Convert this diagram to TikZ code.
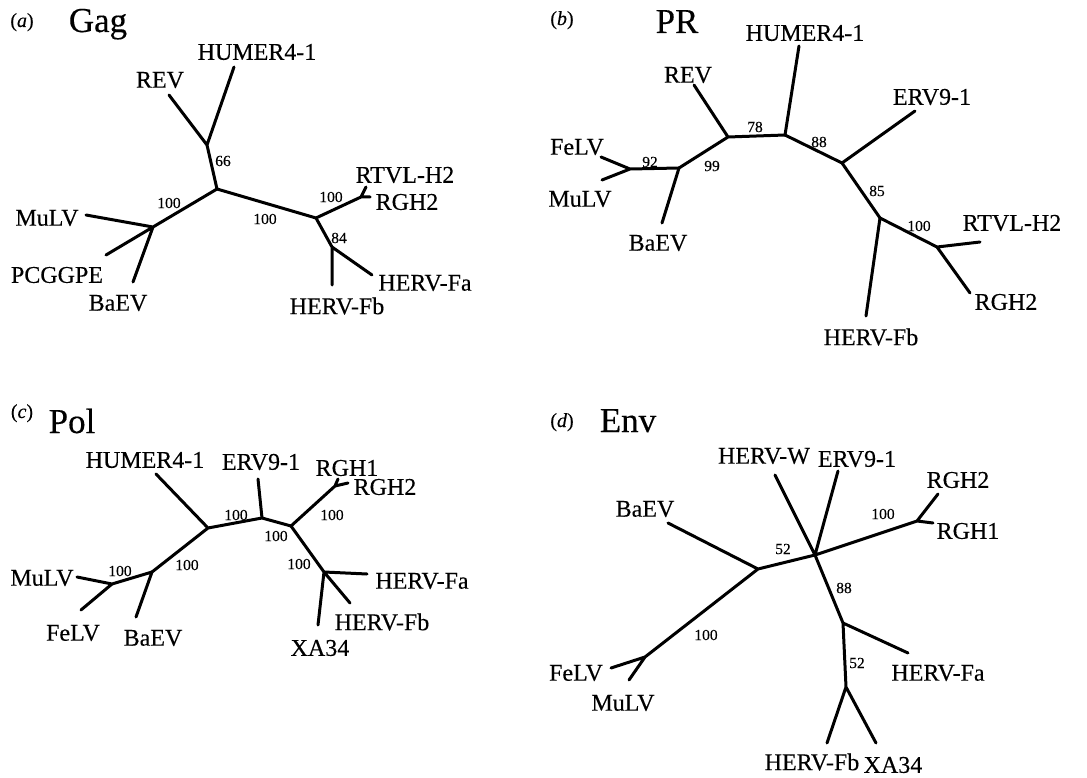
\documentclass[tikz,border=0pt]{standalone}
\usepackage{fontspec}
\setmainfont{Liberation Serif}[FakeBold=0.3]
\begin{document}
\begin{tikzpicture}[x=1pt,y=-1pt,
  branch/.style={line width=3pt, line cap=round},
  taxon/.style={font=\fontsize{24}{26}\selectfont, inner sep=0pt},
  boot/.style={font=\fontsize{15.5}{17}\selectfont, inner sep=0pt},
  gene/.style={font=\fontsize{35}{38}\selectfont, inner sep=0pt, anchor=base},
  panel/.style={font=\fontsize{20}{22}\selectfont, inner sep=0pt, anchor=base}]
\useasboundingbox (0,0) rectangle (1087,778);

% ---------------- (a) Gag ----------------
\node[panel] (a-lab) at (22,27) {(\textit{a})};
\node[gene] (a-title) at (98,32) {Gag};
\coordinate (a-c) at (217,189);
\coordinate (a-n66) at (207,145);
\coordinate (a-rev) at (169,95);
\coordinate (a-hum) at (234,67);
\coordinate (a-m) at (153,227);
\coordinate (a-mulv) at (86,215);
\coordinate (a-pcg) at (106,255);
\coordinate (a-baev) at (133,282);
\coordinate (a-r) at (316,218);
\coordinate (a-rr) at (361,197);
\coordinate (a-rtvl) at (366,187);
\coordinate (a-rgh2) at (370,197);
\coordinate (a-f) at (332,247);
\coordinate (a-fa) at (372,275);
\coordinate (a-fb) at (332,285);
\draw[branch] (a-c) -- (a-n66) (a-n66) -- (a-rev) (a-n66) -- (a-hum);
\draw[branch] (a-c) -- (a-m) (a-m) -- (a-mulv) (a-m) -- (a-pcg) (a-m) -- (a-baev);
\draw[branch] (a-c) -- (a-r) (a-r) -- (a-rr) (a-rr) -- (a-rtvl) (a-rr) -- (a-rgh2);
\draw[branch] (a-r) -- (a-f) (a-f) -- (a-fa) (a-f) -- (a-fb);
\node[taxon] (a-t-hum) at (257,52) {HUMER4-1};
\node[taxon] (a-t-rev) at (160,80) {REV};
\node[taxon] (a-t-mulv) at (47,218) {MuLV};
\node[taxon] (a-t-pcg) at (57,275) {PCGGPE};
\node[taxon] (a-t-baev) at (118,303) {BaEV};
\node[taxon] (a-t-rtvl) at (405,175) {RTVL-H2};
\node[taxon] (a-t-rgh2) at (407,202) {RGH2};
\node[taxon] (a-t-fa) at (425,283) {HERV-Fa};
\node[taxon] (a-t-fb) at (337,306) {HERV-Fb};
\node[boot] (a-b1) at (223,161) {66};
\node[boot] (a-b2) at (169,203) {100};
\node[boot] (a-b3) at (265,219) {100};
\node[boot] (a-b4) at (331,197) {100};
\node[boot] (a-b5) at (339,238) {84};

% ---------------- (b) PR ----------------
\node[panel] (b-lab) at (562,25) {(\textit{b})};
\node[gene] (b-title) at (677,33) {PR};
\coordinate (b-fm) at (630,169);
\coordinate (b-felv) at (601,157);
\coordinate (b-mulv) at (602,180);
\coordinate (b-b) at (679,168);
\coordinate (b-baev) at (662,223);
\coordinate (b-rv) at (728,137);
\coordinate (b-rev) at (694,85);
\coordinate (b-h) at (785,135);
\coordinate (b-hum) at (799,46);
\coordinate (b-e) at (842,163);
\coordinate (b-erv) at (915,111);
\coordinate (b-f) at (880,218);
\coordinate (b-fb) at (866,316);
\coordinate (b-rr) at (937,247);
\coordinate (b-rtvl) at (980,242);
\coordinate (b-rgh2) at (970,293);
\draw[branch] (b-fm) -- (b-felv) (b-fm) -- (b-mulv) (b-fm) -- (b-b);
\draw[branch] (b-b) -- (b-baev) (b-b) -- (b-rv) (b-rv) -- (b-rev) (b-rv) -- (b-h);
\draw[branch] (b-h) -- (b-hum) (b-h) -- (b-e) (b-e) -- (b-erv) (b-e) -- (b-f);
\draw[branch] (b-f) -- (b-fb) (b-f) -- (b-rr) (b-rr) -- (b-rtvl) (b-rr) -- (b-rgh2);
\node[taxon] (b-t-felv) at (577,147) {FeLV};
\node[taxon] (b-t-mulv) at (580,199) {MuLV};
\node[taxon] (b-t-baev) at (658,243) {BaEV};
\node[taxon] (b-t-rev) at (688,75) {REV};
\node[taxon] (b-t-hum) at (805,33) {HUMER4-1};
\node[taxon] (b-t-erv) at (932,97) {ERV9-1};
\node[taxon] (b-t-fb) at (871,337) {HERV-Fb};
\node[taxon] (b-t-rtvl) at (1012,223) {RTVL-H2};
\node[taxon] (b-t-rgh2) at (1006,302) {RGH2};
\node[boot] (b-b1) at (650,162) {92};
\node[boot] (b-b2) at (712,166) {99};
\node[boot] (b-b3) at (755,127) {78};
\node[boot] (b-b4) at (819,142) {88};
\node[boot] (b-b5) at (877,191) {85};
\node[boot] (b-b6) at (919,226) {100};

% ---------------- (c) Pol ----------------
\node[panel] (c-lab) at (22,418) {(\textit{c})};
\node[gene] (c-title) at (72,433) {Pol};
\coordinate (c-m) at (112,584);
\coordinate (c-mulv) at (77,577);
\coordinate (c-felv) at (81,610);
\coordinate (c-b) at (152,572);
\coordinate (c-baev) at (136,617);
\coordinate (c-h) at (208,528);
\coordinate (c-hum) at (156,474);
\coordinate (c-e) at (262,518);
\coordinate (c-erv) at (258,479);
\coordinate (c-r) at (291,526);
\coordinate (c-rg) at (335,486);
\coordinate (c-rgh1) at (338,479);
\coordinate (c-rgh2) at (348,483);
\coordinate (c-f) at (324,572);
\coordinate (c-fa) at (367,574);
\coordinate (c-fb) at (350,603);
\coordinate (c-xa) at (318,625);
\draw[branch] (c-m) -- (c-mulv) (c-m) -- (c-felv) (c-m) -- (c-b) (c-b) -- (c-baev);
\draw[branch] (c-b) -- (c-h) (c-h) -- (c-hum) (c-h) -- (c-e) (c-e) -- (c-erv) (c-e) -- (c-r);
\draw[branch] (c-r) -- (c-rg) (c-rg) -- (c-rgh1) (c-rg) -- (c-rgh2);
\draw[branch] (c-r) -- (c-f) (c-f) -- (c-fa) (c-f) -- (c-fb) (c-f) -- (c-xa);
\node[taxon] (c-t-hum) at (145,460) {HUMER4-1};
\node[taxon] (c-t-erv) at (261,462) {ERV9-1};
\node[taxon] (c-t-rgh1) at (347,468) {RGH1};
\node[taxon] (c-t-rgh2) at (385,487) {RGH2};
\node[taxon] (c-t-mulv) at (42,578) {MuLV};
\node[taxon] (c-t-felv) at (73,633) {FeLV};
\node[taxon] (c-t-baev) at (153,638) {BaEV};
\node[taxon] (c-t-fa) at (422,581) {HERV-Fa};
\node[taxon] (c-t-fb) at (382,622) {HERV-Fb};
\node[taxon] (c-t-xa) at (320,648) {XA34};
\node[boot] (c-b1) at (120,571) {100};
\node[boot] (c-b2) at (187,565) {100};
\node[boot] (c-b3) at (236,515) {100};
\node[boot] (c-b4) at (276,536) {100};
\node[boot] (c-b5) at (332,515) {100};
\node[boot] (c-b6) at (299,564) {100};

% ---------------- (d) Env ----------------
\node[panel] (d-lab) at (562,427) {(\textit{d})};
\node[gene] (d-title) at (628,432) {Env};
\coordinate (d-c) at (815,555);
\coordinate (d-hw) at (775,475);
\coordinate (d-erv) at (838,471);
\coordinate (d-rg) at (917,521);
\coordinate (d-rgh2) at (938,494);
\coordinate (d-rgh1) at (933,523);
\coordinate (d-b) at (758,569);
\coordinate (d-baev) at (668,523);
\coordinate (d-fm) at (645,657);
\coordinate (d-felv) at (611,668);
\coordinate (d-mulv) at (629,680);
\coordinate (d-f) at (843,623);
\coordinate (d-fa) at (908,653);
\coordinate (d-x) at (846,687);
\coordinate (d-fb) at (827,743);
\coordinate (d-xa) at (876,743);
\draw[branch] (d-c) -- (d-hw) (d-c) -- (d-erv) (d-c) -- (d-rg) (d-rg) -- (d-rgh2) (d-rg) -- (d-rgh1);
\draw[branch] (d-c) -- (d-b) (d-b) -- (d-baev) (d-b) -- (d-fm) (d-fm) -- (d-felv) (d-fm) -- (d-mulv);
\draw[branch] (d-c) -- (d-f) (d-f) -- (d-fa) (d-f) -- (d-x) (d-x) -- (d-fb) (d-x) -- (d-xa);
\node[taxon] (d-t-hw) at (764,456) {HERV-W};
\node[taxon] (d-t-erv) at (857,459) {ERV9-1};
\node[taxon] (d-t-rgh2) at (958,480) {RGH2};
\node[taxon] (d-t-rgh1) at (968,531) {RGH1};
\node[taxon] (d-t-baev) at (645,509) {BaEV};
\node[taxon] (d-t-felv) at (576,673) {FeLV};
\node[taxon] (d-t-mulv) at (623,703) {MuLV};
\node[taxon] (d-t-fa) at (938,673) {HERV-Fa};
\node[taxon] (d-t-fb) at (812,762) {HERV-Fb};
\node[taxon] (d-t-xa) at (893,765) {XA34};
\node[boot] (d-b1) at (883,514) {100};
\node[boot] (d-b2) at (783,549) {52};
\node[boot] (d-b3) at (706,635) {100};
\node[boot] (d-b4) at (844,588) {88};
\node[boot] (d-b5) at (857,663) {52};
\end{tikzpicture}
\end{document}
